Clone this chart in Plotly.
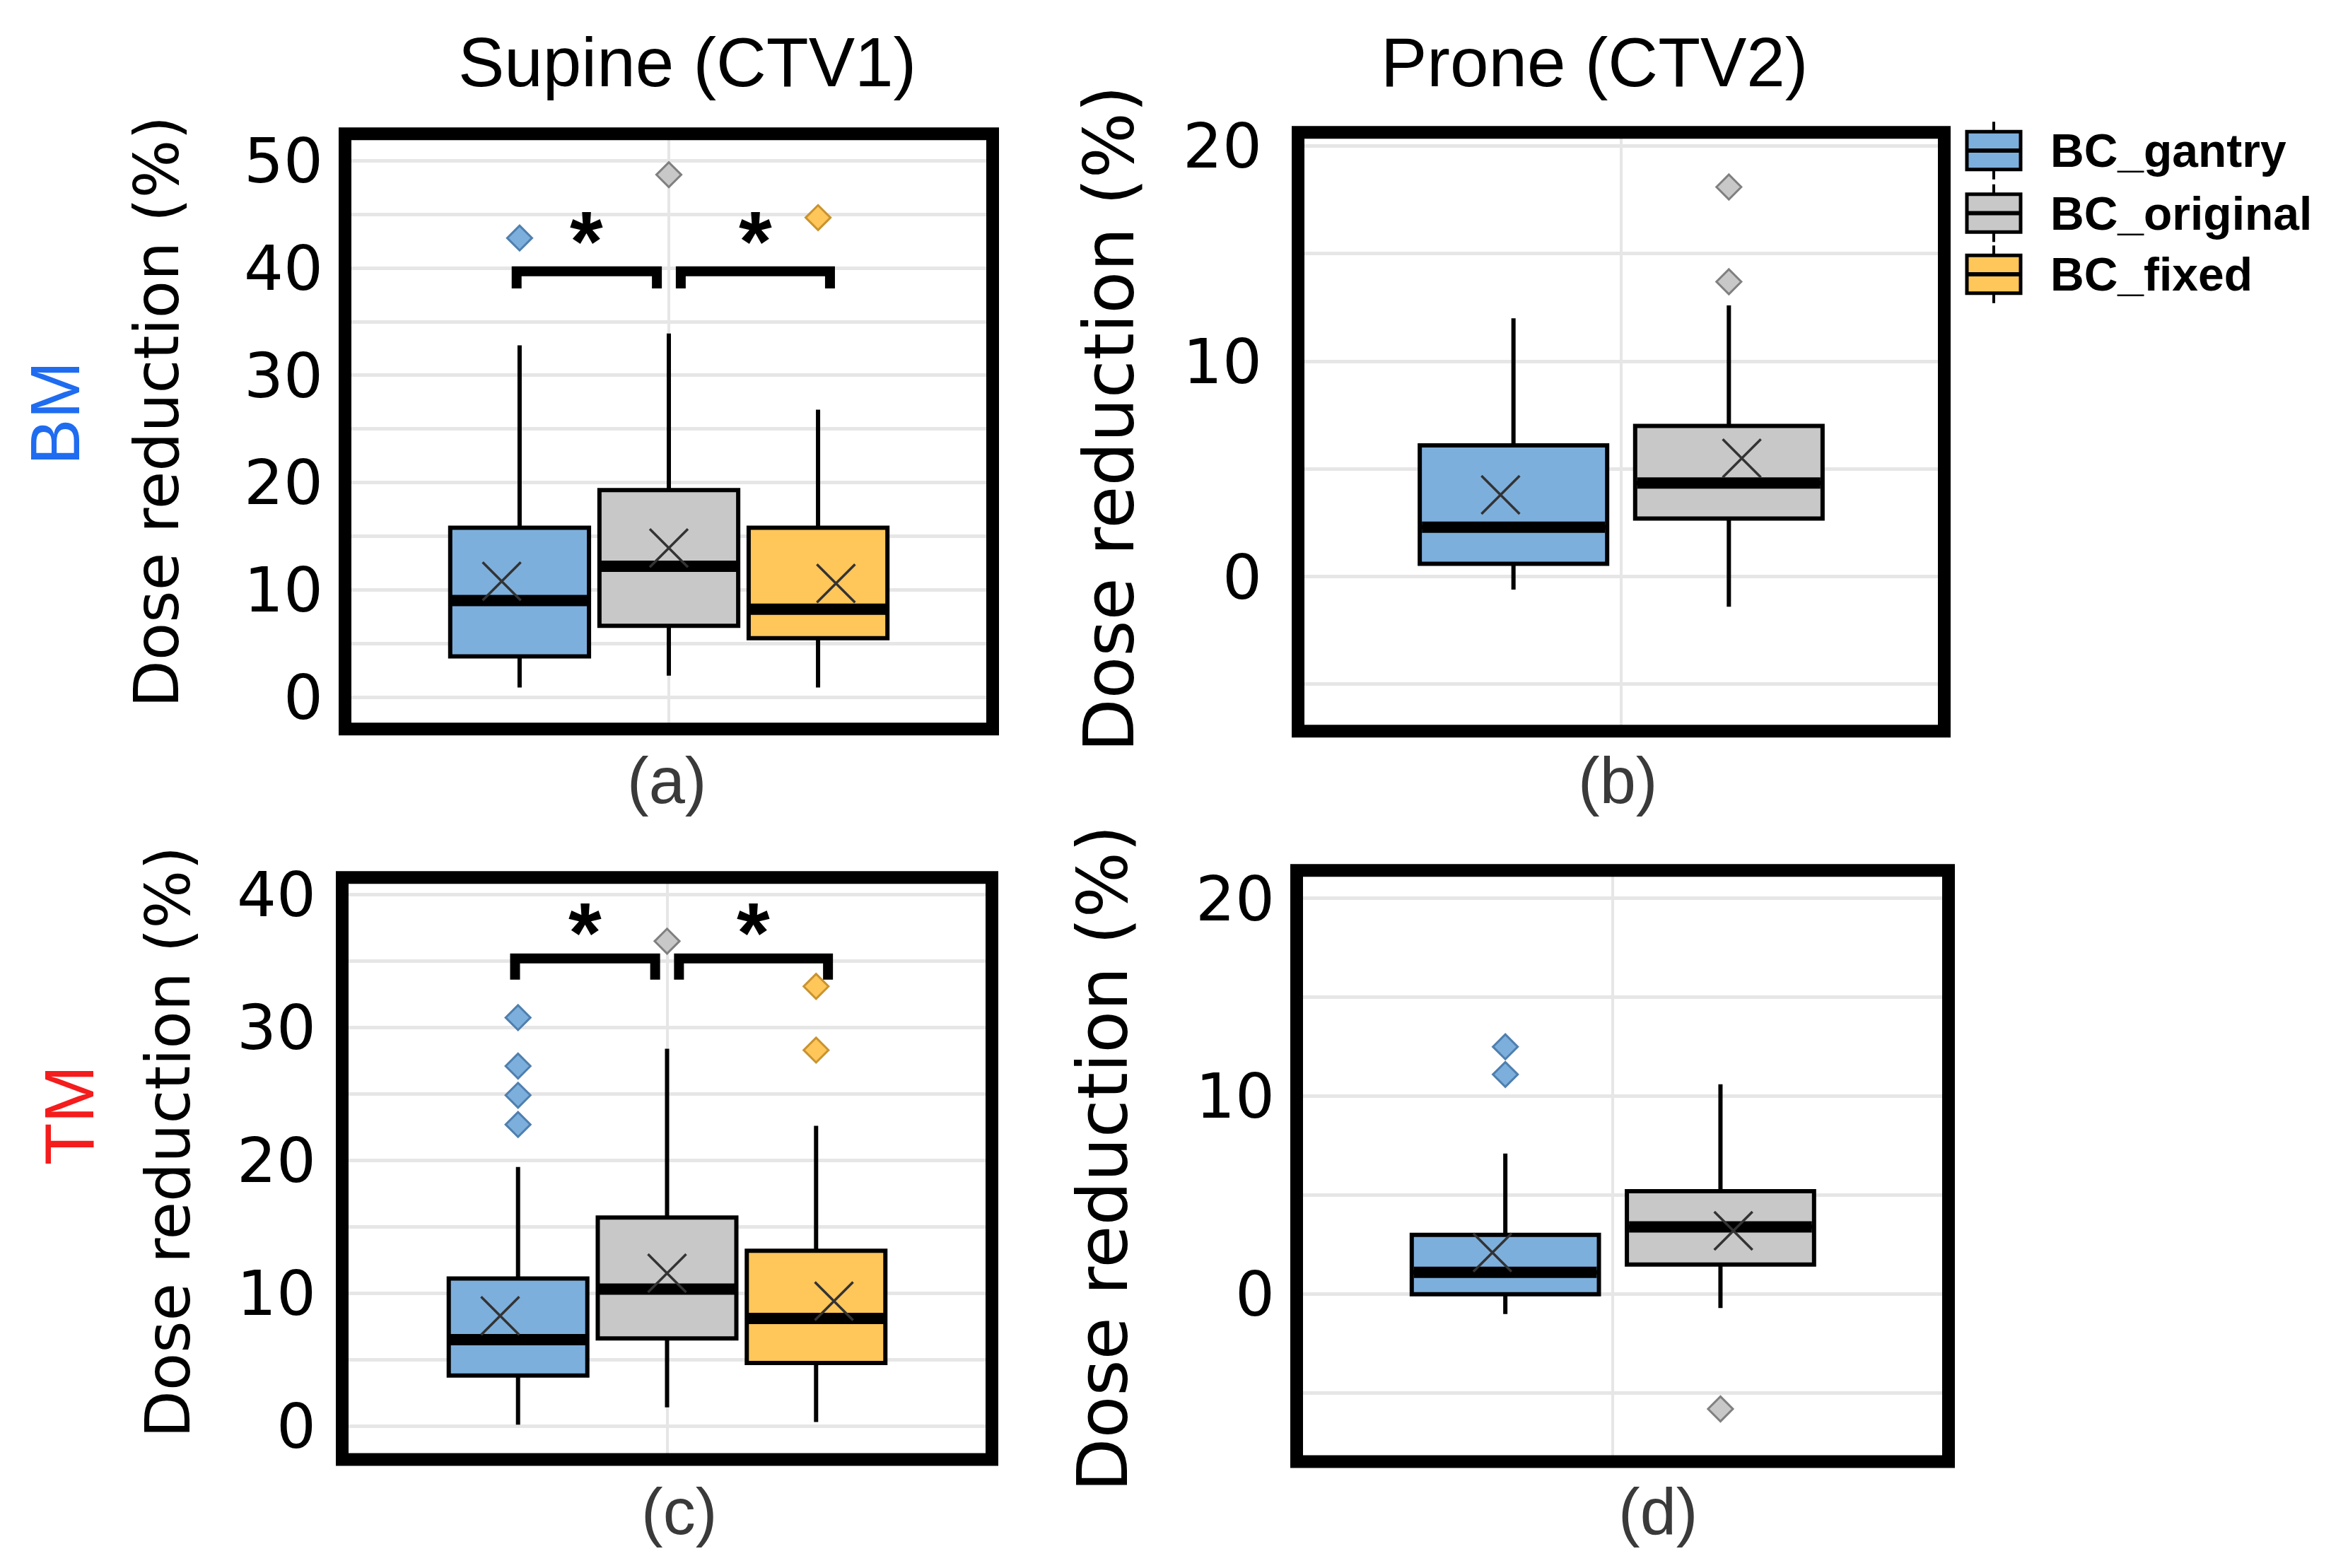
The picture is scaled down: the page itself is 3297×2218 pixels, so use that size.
import plotly.graph_objects as go

# ---------------- data ----------------
groups = ["BC_gantry", "BC_original", "BC_fixed"]

# (a) BM, Supine (CTV1)
a_q1 = [3.8, 6.65, 5.5]
a_median = [9.0, 12.2, 8.2]
a_q3 = [15.8, 19.3, 15.8]
a_lower = [0.9, 2.0, 0.9]
a_upper = [32.8, 33.9, 26.8]
a_mean = [10.8, 13.9, 10.6]
a_outliers = [[42.8], [48.7], [44.7]]
a_ticks = [0, 5, 10, 15, 20, 25, 30, 35, 40, 45, 50]

# (b) BM, Prone (CTV2)
b_q1 = [0.6, 2.7]
b_median = [2.3, 4.35]
b_q3 = [6.1, 7.0]
b_lower = [-0.6, -1.4]
b_upper = [12.0, 12.6]
b_mean = [3.8, 5.5]
b_outliers = [[], [18.1, 13.7]]
b_ticks = [-5, 0, 5, 10, 15, 20]

# (c) TM, Supine (CTV1)
c_q1 = [3.8, 6.6, 4.75]
c_median = [6.5, 10.3, 8.1]
c_q3 = [11.1, 15.7, 13.2]
c_lower = [0.1, 1.4, 0.3]
c_upper = [19.5, 28.4, 22.6]
c_mean = [8.3, 11.5, 9.4]
c_outliers = [[30.75, 27.1, 24.9, 22.7], [36.5], [33.1, 28.3]]
c_ticks = [0, 5, 10, 15, 20, 25, 30, 35, 40]

# (d) TM, Prone (CTV2)
d_q1 = [0.0, 1.5]
d_median = [1.1, 3.4]
d_q3 = [3.0, 5.2]
d_lower = [-1.0, -0.7]
d_upper = [7.1, 10.6]
d_mean = [2.1, 3.2]
d_outliers = [[12.5, 11.1], [-5.8]]
d_ticks = [-5, 0, 5, 10, 15, 20]

# significance brackets (supine panels): height of bracket top, label
a_sig_y = 39.7
c_sig_y = 35.2
sig_label = "*"

col_titles = ["Supine (CTV1)", "Prone (CTV2)"]
row_titles = ["BM", "TM"]
panel_labels = ["(a)", "(b)", "(c)", "(d)"]
y_title = "Dose reduction (%)"

# ---------------- style ----------------
W, H = 3297, 2218
FILL = {"BC_gantry": "#7DAFDC", "BC_original": "#C8C8C8", "BC_fixed": "#FFC65A"}
EDGE = {"BC_gantry": "#4F7FAE", "BC_original": "#808080", "BC_fixed": "#C9932E"}
MEAN_SPREAD = 1.12
GRID = "#E6E6E6"
ARIAL = "Liberation Sans, Arial, sans-serif"
DEJAVU = "DejaVu Sans, Verdana, sans-serif"
X_OFF = 8.0                  # compensation of the rendered horizontal placement
Y_OFF, Y_SCL = 30.0, 0.988   # compensation of the rendered vertical placement


def fx(X):
    return (X - X_OFF) / W


def fy(Y):
    return 1 - ((Y - Y_OFF) / Y_SCL) / H


# frame (plot area) positions in pixels: x0, x1, ytop, ybottom
frames = {
    "a": (488, 1404, 180, 1027),
    "b": (1836, 2750, 178, 1030),
    "c": (484, 1403, 1238, 2066),
    "d": (1834, 2756, 1228, 2069),
}
xranges = {"a": [-0.17, 4.17], "b": [0.0, 3.0], "c": [-0.18, 4.18], "d": [0.03, 3.06]}
yranges = {"a": [-2.98, 52.52], "b": [-7.18, 20.64], "c": [-2.52, 41.3], "d": [-8.46, 21.41]}
box_widths = {"a": 0.93, "b": 0.87, "c": 0.93, "d": 0.87}
standoffs = {"a": 30, "b": 50, "c": 36, "d": 30}
axis_ids = {"a": ("x", "y"), "b": ("x2", "y2"), "c": ("x3", "y3"), "d": ("x4", "y4")}

fig = go.Figure()


def add_panel(key, q1, med, q3, lo, hi, mean, outl):
    xa, ya = axis_ids[key]
    bw = box_widths[key]
    n = len(q1)
    positions = list(range(1, n + 1))
    center = sum(positions) / n
    for i in range(n):
        name = groups[i]
        p = positions[i]
        fig.add_trace(go.Box(
            x=[p], q1=[q1[i]], median=[med[i]], q3=[q3[i]],
            lowerfence=[lo[i]], upperfence=[hi[i]],
            width=bw, fillcolor=FILL[name],
            line=dict(color="black", width=6), whiskerwidth=0,
            boxpoints=False, name=name, showlegend=False,
            hoverinfo="skip", xaxis=xa, yaxis=ya))
        fig.add_trace(go.Scatter(
            x=[p - bw / 2 + 0.01, p + bw / 2 - 0.01], y=[med[i], med[i]],
            mode="lines", line=dict(color="black", width=16),
            showlegend=False, hoverinfo="skip", xaxis=xa, yaxis=ya))
        fig.add_trace(go.Scatter(
            x=[center + (p - center) * MEAN_SPREAD], y=[mean[i]],
            mode="markers",
            marker=dict(symbol="x-thin", size=54, line=dict(width=3.5, color="#333333")),
            showlegend=False, hoverinfo="skip", xaxis=xa, yaxis=ya))
        if outl[i]:
            fig.add_trace(go.Scatter(
                x=[p] * len(outl[i]), y=outl[i], mode="markers",
                marker=dict(symbol="diamond", size=27, color=FILL[name],
                            line=dict(color=EDGE[name], width=3)),
                showlegend=False, hoverinfo="skip", xaxis=xa, yaxis=ya))
    return positions


pos_a = add_panel("a", a_q1, a_median, a_q3, a_lower, a_upper, a_mean, a_outliers)
pos_b = add_panel("b", b_q1, b_median, b_q3, b_lower, b_upper, b_mean, b_outliers)
pos_c = add_panel("c", c_q1, c_median, c_q3, c_lower, c_upper, c_mean, c_outliers)
pos_d = add_panel("d", d_q1, d_median, d_q3, d_lower, d_upper, d_mean, d_outliers)

annotations = []


def add_brackets(key, positions, top, star_shift):
    xa, ya = axis_ids[key]
    drop = 1.6
    for (g0, g1, inner_left) in [(0, 1, True), (1, 2, False)]:
        p0, p1 = positions[g0], positions[g1]
        x0 = p0 - 0.02 if inner_left else p0 + 0.08
        x1 = p1 - 0.08 if inner_left else p1 + 0.08
        fig.add_trace(go.Scatter(
            x=[x0, x0, x1, x1], y=[top - drop, top, top, top - drop],
            mode="lines", line=dict(color="black", width=14),
            showlegend=False, hoverinfo="skip", xaxis=xa, yaxis=ya))
        annotations.append(dict(
            x=(x0 + x1) / 2, y=top, xref=xa, yref=ya, text="<b>%s</b>" % sig_label,
            showarrow=False, yanchor="bottom", yshift=star_shift,
            font=dict(family=ARIAL, size=120, color="black")))


add_brackets("a", pos_a, a_sig_y, -26)
add_brackets("c", pos_c, c_sig_y, -32)

layout_axes = {}
tick_sets = {"a": a_ticks, "b": b_ticks, "c": c_ticks, "d": d_ticks}
pos_sets = {"a": pos_a, "b": pos_b, "c": pos_c, "d": pos_d}
shapes = []
for key, (x0, x1, yt, yb) in frames.items():
    xa, ya = axis_ids[key]
    xname = "xaxis" + xa[1:]
    yname = "yaxis" + ya[1:]
    positions = pos_sets[key]
    center = sum(positions) / len(positions)
    ticks = tick_sets[key]
    layout_axes[xname] = dict(
        domain=[fx(x0), fx(x1)], range=xranges[key], anchor=ya,
        tickmode="array", tickvals=[center], showticklabels=False,
        showgrid=True, gridcolor=GRID, gridwidth=4, zeroline=False,
        showline=False, ticks="", fixedrange=True)
    layout_axes[yname] = dict(
        domain=[fy(yb), fy(yt)], range=yranges[key], anchor=xa,
        tickmode="array", tickvals=ticks,
        ticktext=[str(t) if t % 10 == 0 else "" for t in ticks],
        showgrid=True, gridcolor=GRID, gridwidth=5, zeroline=False,
        showline=False, ticks="", ticklabelstandoff=standoffs[key],
        tickfont=dict(family=DEJAVU, size=88, color="black"), fixedrange=True)
    shapes.append(dict(
        type="rect", xref=xa + " domain", yref=ya + " domain",
        x0=0, x1=1, y0=0, y1=1, line=dict(color="black", width=18),
        fillcolor="rgba(0,0,0,0)", layer="above"))

# column titles
for txt, X in zip(col_titles, [972, 2255]):
    annotations.append(dict(x=fx(X), y=fy(78), xref="paper", yref="paper", text=txt,
                            showarrow=False, xanchor="center", yanchor="middle",
                            font=dict(family=ARIAL, size=98, color="black")))
# row titles
for txt, X, Y, colr in zip(row_titles, [78, 98], [578, 1576], ["#1F6CF0", "#F41C1C"]):
    annotations.append(dict(x=fx(X), y=fy(Y), xref="paper", yref="paper", text=txt,
                            showarrow=False, textangle=-90, xanchor="center", yanchor="middle",
                            font=dict(family=ARIAL, size=98, color=colr)))
# y titles
for X, Y, s in [(222, 576, 87), (1569, 586, 98), (238, 1615, 87), (1560, 1638, 98)]:
    annotations.append(dict(x=fx(X), y=fy(Y), xref="paper", yref="paper", text=y_title,
                            showarrow=False, textangle=-90, xanchor="center", yanchor="middle",
                            font=dict(family=DEJAVU, size=s, color="black")))
# panel labels
for txt, X, Y in zip(panel_labels, [943, 2288, 960, 2345], [1100, 1100, 2140, 2140]):
    annotations.append(dict(x=fx(X), y=fy(Y), xref="paper", yref="paper", text=txt,
                            showarrow=False, xanchor="center", yanchor="middle",
                            font=dict(family=ARIAL, size=92, color="#3A3A3A")))

# legend (drawn manually so the icons scale with the text)
LEG_X0, LEG_X1, LEG_TX = 2782, 2858, 2898
leg_centers = [204, 293, 380]
for name, cy in zip(groups, leg_centers):
    xm = (LEG_X0 + LEG_X1) / 2
    shapes.append(dict(type="line", xref="paper", yref="paper",
                       x0=fx(xm), x1=fx(xm), y0=fy(cy - 41), y1=fy(cy + 41),
                       line=dict(color="black", width=4)))
    shapes.append(dict(type="rect", xref="paper", yref="paper",
                       x0=fx(LEG_X0), x1=fx(LEG_X1), y0=fy(cy + 27), y1=fy(cy - 27),
                       fillcolor=FILL[name], line=dict(color="black", width=5)))
    shapes.append(dict(type="line", xref="paper", yref="paper",
                       x0=fx(LEG_X0), x1=fx(LEG_X1), y0=fy(cy), y1=fy(cy),
                       line=dict(color="black", width=6)))
    annotations.append(dict(x=fx(LEG_TX), y=fy(cy), xref="paper", yref="paper", text="<b>%s</b>" % name,
                            showarrow=False, xanchor="left", yanchor="middle",
                            font=dict(family=ARIAL, size=66, color="black")))

fig.update_layout(
    width=W, height=H, autosize=False,
    margin=dict(l=0, r=0, t=0, b=0),
    paper_bgcolor="white", plot_bgcolor="white",
    showlegend=False, shapes=shapes, annotations=annotations,
    **layout_axes)

fig.write_html("out.html")
